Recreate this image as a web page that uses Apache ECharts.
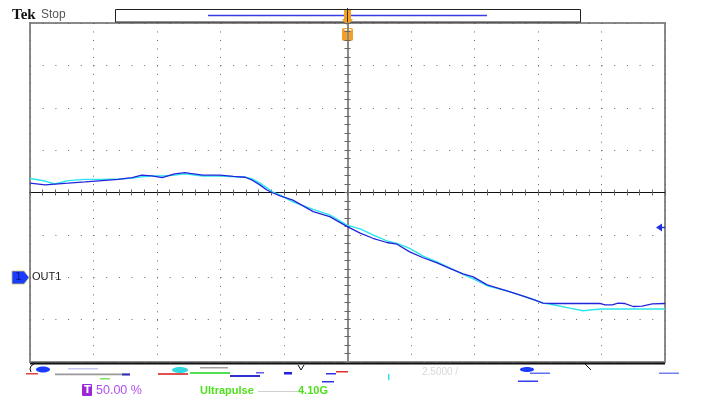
<!DOCTYPE html>
<html>
<head>
<meta charset="utf-8">
<script src="https://cdn.jsdelivr.net/npm/echarts@6/dist/echarts.min.js"></script>
<style>
html,body{margin:0;padding:0;background:#fff;}
#chart{width:701px;height:400px;}
</style>
</head>
<body>
<div id="chart"></div>
<script>
// Horizontal position in divisions (-5..5), vertical in divisions (-4..4)
const blueX = [-5.00,-4.76,-4.61,-4.40,-4.13,-3.87,-3.61,-3.39,-3.24,-3.08,-2.92,-2.72,-2.56,-2.48,-2.28,-2.01,-1.80,-1.61,-1.50,-1.38,-1.27,-1.19,-1.06,-0.86,-0.54,-0.28,-0.01,0.20,0.40,0.62,0.78,0.98,1.19,1.41,1.61,1.82,1.98,2.20,2.51,2.72,2.92,3.08,3.24,3.98,4.06,4.17,4.26,4.37,4.50,4.64,4.80,5.00];
const blueY = [0.22,0.18,0.20,0.22,0.25,0.28,0.31,0.35,0.41,0.39,0.35,0.44,0.47,0.45,0.41,0.41,0.38,0.36,0.29,0.18,0.06,0.00,-0.08,-0.18,-0.45,-0.57,-0.80,-0.96,-1.08,-1.18,-1.22,-1.40,-1.54,-1.66,-1.79,-1.92,-1.99,-2.18,-2.32,-2.42,-2.52,-2.61,-2.62,-2.62,-2.65,-2.65,-2.61,-2.62,-2.69,-2.68,-2.63,-2.62];
const cyanX = [-5.00,-4.76,-4.61,-4.40,-4.13,-3.87,-3.61,-3.39,-3.24,-3.08,-2.92,-2.72,-2.56,-2.28,-2.01,-1.61,-1.50,-1.38,-1.27,-1.19,-1.06,-0.86,-0.54,-0.28,-0.01,0.20,0.40,0.62,0.78,0.98,1.19,1.41,1.61,1.82,1.98,2.20,2.51,2.72,2.92,3.08,3.24,3.50,3.71,3.98,5.00];
const cyanY = [0.33,0.27,0.20,0.28,0.31,0.31,0.32,0.34,0.37,0.39,0.39,0.41,0.44,0.39,0.39,0.36,0.32,0.22,0.11,0.02,-0.06,-0.22,-0.40,-0.53,-0.77,-0.86,-1.00,-1.14,-1.20,-1.32,-1.50,-1.64,-1.78,-1.93,-2.04,-2.20,-2.32,-2.42,-2.52,-2.61,-2.65,-2.73,-2.79,-2.75,-2.75];

const statusText = 'Stop';
const channelLabel = 'OUT1';
const triggerLevelText = '50.00 %';
const footerTexts = ['Ultrapulse', '4.10G'];

const zip = (xs, ys) => xs.map((x, i) => [x, ys[i]]);

const chart = echarts.init(document.getElementById('chart'), null, {renderer: 'canvas'});
const G = {left: 30, top: 23, width: 635, height: 339};

function tickAxis(gridIndex, pos, isX) {
  return {
    type: 'value', gridIndex: gridIndex, position: pos,
    min: isX ? -5 : -4, max: isX ? 5 : 4, interval: 0.2,
    axisLine: {show: false},
    axisTick: {show: true, inside: true, length: 3, lineStyle: {color: '#666', width: 1}},
    axisLabel: {show: false}, splitLine: {show: false}
  };
}

const option = {
  animation: false,
  backgroundColor: '#fff',
  grid: [
    Object.assign({show: false}, G),
    Object.assign({show: true, borderColor: '#8a8a8a', borderWidth: 2, backgroundColor: 'transparent'}, G)
  ],
  xAxis: [
    {
      type: 'value', gridIndex: 0, min: -5, max: 5, interval: 1,
      axisLine: {show: true, onZero: true, lineStyle: {color: '#111', width: 1}},
      axisTick: {show: true, inside: true, length: 2.5, lineStyle: {color: '#777'}},
      minorTick: {show: true, splitNumber: 5, length: 2.5, lineStyle: {color: '#777'}},
      axisLabel: {show: false},
      splitLine: {show: true, lineStyle: {color: '#666', width: 1, type: [1, 7.48]}}
    },
    tickAxis(1, 'top', true),
    tickAxis(1, 'bottom', true)
  ],
  yAxis: [
    {
      type: 'value', gridIndex: 0, min: -4, max: 4, interval: 1,
      axisLine: {show: true, onZero: true, lineStyle: {color: '#8a8a8a', width: 2}},
      axisTick: {show: true, inside: true, length: 2.5, lineStyle: {color: '#666'}},
      minorTick: {show: true, splitNumber: 5, length: 2.5, lineStyle: {color: '#666'}},
      axisLabel: {show: false},
      splitLine: {show: true, lineStyle: {color: '#666', width: 1, type: [1, 11.7]}}
    },
    tickAxis(1, 'left', false),
    tickAxis(1, 'right', false)
  ],
  series: [
    {
      type: 'line', xAxisIndex: 0, yAxisIndex: 0, data: zip(cyanX, cyanY),
      showSymbol: false, smooth: false,
      lineStyle: {color: '#2ae6ee', width: 1.4}, z: 3
    },
    {
      type: 'line', xAxisIndex: 0, yAxisIndex: 0, data: zip(blueX, blueY),
      showSymbol: false, smooth: false,
      lineStyle: {color: '#2424dc', width: 1.3}, z: 4
    }
  ],
  graphic: [
    // header
    {type: 'text', left: 12, top: 8, style: {text: 'Tek', fill: '#111', font: 'bold 15px "Liberation Serif", serif'}},
    {type: 'text', left: 41, top: 9, style: {text: statusText, fill: '#555', font: '12px "Liberation Sans", sans-serif'}},
    {type: 'rect', shape: {x: 115.5, y: 9.5, width: 465, height: 12.5}, style: {fill: '#fff', stroke: '#222', lineWidth: 1}},
    {type: 'line', shape: {x1: 208, y1: 15.5, x2: 487, y2: 15.5}, style: {stroke: '#3a3ae8', lineWidth: 1.3}},
    // trigger marker
    {type: 'polygon', shape: {points: [[344,10],[351,10],[351,19],[353,19],[347.5,26],[342,19],[344,19]]}, style: {fill: '#f5a020'}},
    {type: 'line', shape: {x1: 347.5, y1: 8, x2: 347.5, y2: 22}, style: {stroke: '#333', lineWidth: 1}},
    {type: 'rect', shape: {x: 342, y: 28, width: 11, height: 13, r: 2}, style: {fill: '#f5a020'}},
    {type: 'text', left: 344.5, top: 29.5, style: {text: 'T', fill: '#fff', font: 'bold 10px "DejaVu Sans", sans-serif'}},
    // right level arrow
    {type: 'polygon', shape: {points: [[656,227.5],[662,223.5],[662,231.5]]}, style: {fill: '#2030e0'}},
    {type: 'line', shape: {x1: 661, y1: 227.5, x2: 665, y2: 227.5}, style: {stroke: '#2030e0', lineWidth: 1.5}},
    // channel marker
    {type: 'polygon', shape: {points: [[12,271],[24,271],[29,277.5],[24,284],[12,284]]}, style: {fill: '#1a3cff', stroke: '#c8c070', lineWidth: 0.8}},
    {type: 'text', left: 15, top: 271.5, style: {text: '1', fill: '#0a1a90', font: '11px "DejaVu Sans", sans-serif'}},
    {type: 'text', left: 32, top: 271, style: {text: channelLabel, fill: '#222', font: '11px "Liberation Sans", sans-serif'}},
    // bottom border
    {type: 'line', shape: {x1: 30, y1: 363.5, x2: 665, y2: 363.5}, style: {stroke: '#111', lineWidth: 2}},
    {type: 'polyline', shape: {points: [[34,364],[31,366],[30,369],[31,372]]}, style: {stroke: '#111', lineWidth: 1, fill: null}},
    {type: 'polyline', shape: {points: [[298,365],[301,370],[304,365]]}, style: {stroke: '#111', lineWidth: 1, fill: null}},
    {type: 'polyline', shape: {points: [[585,364],[588,367],[591,370]]}, style: {stroke: '#111', lineWidth: 1, fill: null}},
    // garbled readout fragments
    {type: 'ellipse', shape: {cx: 43, cy: 369.5, rx: 7, ry: 3}, style: {fill: '#1a3cff'}},
    {type: 'rect', shape: {x: 26, y: 373, width: 12, height: 1.5}, style: {fill: '#e04040'}},
    {type: 'rect', shape: {x: 55, y: 373.5, width: 75, height: 1.8}, style: {fill: '#999'}},
    {type: 'rect', shape: {x: 68, y: 368, width: 30, height: 1.5}, style: {fill: '#c8c8f0'}},
    {type: 'rect', shape: {x: 122, y: 373.5, width: 8, height: 2}, style: {fill: '#3030c0'}},
    {type: 'rect', shape: {x: 100, y: 378, width: 10, height: 1.5}, style: {fill: '#80e060'}},
    {type: 'ellipse', shape: {cx: 180, cy: 370, rx: 8, ry: 3}, style: {fill: '#30d8e0'}},
    {type: 'rect', shape: {x: 158, y: 373, width: 30, height: 2}, style: {fill: '#e05050'}},
    {type: 'rect', shape: {x: 190, y: 372, width: 40, height: 2}, style: {fill: '#50e050'}},
    {type: 'rect', shape: {x: 200, y: 367, width: 28, height: 1.5}, style: {fill: '#a0a0a0'}},
    {type: 'rect', shape: {x: 230, y: 375, width: 30, height: 2}, style: {fill: '#3030d0'}},
    {type: 'rect', shape: {x: 256, y: 372, width: 8, height: 1.5}, style: {fill: '#6060f0'}},
    {type: 'rect', shape: {x: 284, y: 372, width: 8, height: 2.5}, style: {fill: '#2020e0'}},
    {type: 'rect', shape: {x: 326, y: 373, width: 10, height: 1.5}, style: {fill: '#3030e0'}},
    {type: 'rect', shape: {x: 322, y: 381, width: 12, height: 1.5}, style: {fill: '#3030e0'}},
    {type: 'rect', shape: {x: 336, y: 371, width: 12, height: 1.5}, style: {fill: '#e03030'}},
    {type: 'rect', shape: {x: 388, y: 374, width: 1.5, height: 6}, style: {fill: '#30e0f0'}},
    {type: 'text', left: 422, top: 367, style: {text: '2.5000 /', fill: '#d8d8d8', font: '10px "Liberation Sans", sans-serif'}},
    {type: 'ellipse', shape: {cx: 527, cy: 369.5, rx: 7, ry: 2.5}, style: {fill: '#1a3cff'}},
    {type: 'rect', shape: {x: 530, y: 372.5, width: 20, height: 1.5}, style: {fill: '#6070f0'}},
    {type: 'rect', shape: {x: 518, y: 380.5, width: 20, height: 1.5}, style: {fill: '#3040f0'}},
    {type: 'rect', shape: {x: 659, y: 372.5, width: 20, height: 1.5}, style: {fill: '#7080f0'}},
    // trigger level readout
    {type: 'rect', shape: {x: 82, y: 384, width: 10, height: 12, r: 1}, style: {fill: '#9a28d8'}},
    {type: 'text', left: 84, top: 385, style: {text: 'T', fill: '#fff', font: 'bold 10px "DejaVu Sans", sans-serif'}},
    {type: 'text', left: 96, top: 384, style: {text: triggerLevelText, fill: '#b050f0', font: '12.5px "Liberation Sans", sans-serif'}},
    {type: 'text', left: 200, top: 385, style: {text: footerTexts[0], fill: '#50e020', font: 'bold 11px "Liberation Sans", sans-serif'}},
    {type: 'rect', shape: {x: 258, y: 391, width: 40, height: 1}, style: {fill: '#d0d0d0'}},
    {type: 'text', left: 298, top: 385, style: {text: footerTexts[1], fill: '#50e020', font: 'bold 11px "Liberation Sans", sans-serif'}}
  ]
};
chart.setOption(option);
</script>
</body>
</html>
